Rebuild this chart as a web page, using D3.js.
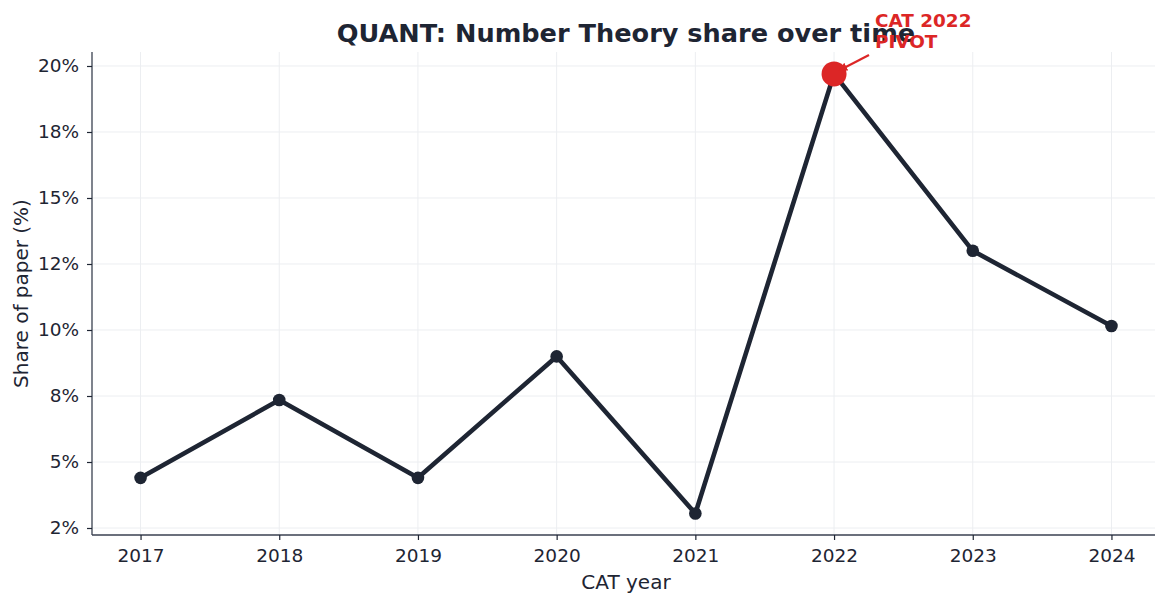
<!DOCTYPE html>
<html>
<head>
<meta charset="utf-8">
<script src="https://cdn.jsdelivr.net/npm/d3@7"></script>
<style>
  body { margin: 0; background: #fff; }
  svg { display: block; font-family: "DejaVu Sans", sans-serif; }
</style>
</head>
<body>
<div id="chart"></div>
<script>
// CAT Quant: Number Theory share by year
const years = [2017, 2018, 2019, 2020, 2021, 2022, 2023, 2024];
const shares = [4.4, 7.35, 4.4, 9.0, 3.05, 19.7, 13.0, 10.15];
const yTicks = [2.5, 5, 7.5, 10, 12.5, 15, 17.5, 20];
const yTickLabels = ['2%', '5%', '8%', '10%', '12%', '15%', '18%', '20%'];
const pivotYear = 2022;

const width = 1155, height = 594;
const margin = { top: 52, right: -5, bottom: 59, left: 92 };
const ink = '#1e2533';
const red = '#dc2626';

const svg = d3.select('#chart').append('svg')
    .attr('width', width)
    .attr('height', height);

const x = d3.scaleLinear()
    .domain([2016.65, 2024.35])
    .range([margin.left, width - margin.right]);
const y = d3.scaleLinear()
    .domain([2.235, 20.53])
    .range([height - margin.bottom, margin.top]);

// Grid
const grid = svg.append('g');
grid.selectAll('.gy').data(yTicks).join('line')
    .attr('x1', margin.left).attr('x2', width - margin.right)
    .attr('y1', d => y(d)).attr('y2', d => y(d))
    .attr('stroke', '#eceef1').attr('stroke-width', 1);
grid.selectAll('.gx').data(years).join('line')
    .attr('x1', d => x(d)).attr('x2', d => x(d))
    .attr('y1', margin.top).attr('y2', height - margin.bottom)
    .attr('stroke', '#eceef1').attr('stroke-width', 1);

// Axes
const xAxis = svg.append('g')
    .attr('transform', `translate(0,${height - margin.bottom})`)
    .call(d3.axisBottom(x).tickValues(years).tickFormat(d3.format('d')).tickSize(5).tickPadding(9));
const yAxis = svg.append('g')
    .attr('transform', `translate(${margin.left},0)`)
    .call(d3.axisLeft(y).tickValues(yTicks).tickFormat((d, i) => yTickLabels[i]).tickSize(5).tickPadding(8));

[xAxis, yAxis].forEach(a => {
    a.select('.domain').attr('stroke', '#3a4150').attr('stroke-width', 1.3)
        .attr('d', a === xAxis
            ? `M${margin.left},0H${width - margin.right}`
            : `M0,${height - margin.bottom}V${margin.top}`);
    a.selectAll('.tick line').attr('stroke', ink).attr('stroke-width', 1.2);
    a.selectAll('.tick text').attr('fill', ink).style('font-size', '18.5px')
        .style('font-family', '"DejaVu Sans", sans-serif');
});

// Line + markers
const line = d3.line().x((d, i) => x(years[i])).y(d => y(d));
svg.append('path')
    .datum(shares)
    .attr('d', line)
    .attr('fill', 'none')
    .attr('stroke', ink)
    .attr('stroke-width', 4.6)
    .attr('stroke-linejoin', 'round');

svg.selectAll('.pt').data(shares).join('circle')
    .attr('cx', (d, i) => x(years[i]))
    .attr('cy', d => y(d))
    .attr('r', 6.3)
    .attr('fill', ink);

// Pivot highlight
const pi = years.indexOf(pivotYear);
const px = x(pivotYear), py = y(shares[pi]);
svg.append('circle')
    .attr('cx', px).attr('cy', py).attr('r', 12.5)
    .attr('fill', red);

// Title
svg.append('text')
    .attr('x', (margin.left + 1160) / 2)
    .attr('y', 42)
    .attr('text-anchor', 'middle')
    .attr('fill', ink)
    .style('font-size', '25.6px')
    .style('font-weight', 'bold')
    .text('QUANT: Number Theory share over time');

// Annotation
svg.append('defs').append('marker')
    .attr('id', 'arrowhead')
    .attr('viewBox', '0 -5 10 10')
    .attr('refX', 8).attr('refY', 0)
    .attr('markerWidth', 4).attr('markerHeight', 4)
    .attr('orient', 'auto')
    .append('path').attr('d', 'M0,-5L10,0L0,5').attr('fill', red);

svg.append('line')
    .attr('x1', 869).attr('y1', 55)
    .attr('x2', px + 6).attr('y2', py - 4)
    .attr('stroke', red).attr('stroke-width', 2.2)
    .attr('marker-end', 'url(#arrowhead)');

const ann = svg.append('text')
    .attr('x', 875).attr('y', 27)
    .attr('fill', red)
    .style('font-size', '18.4px')
    .style('font-weight', 'bold');
ann.append('tspan').attr('x', 875).text('CAT 2022');
ann.append('tspan').attr('x', 875).attr('dy', 21).text('PIVOT');

// Axis labels
svg.append('text')
    .attr('x', (margin.left + 1160) / 2)
    .attr('y', 589)
    .attr('text-anchor', 'middle')
    .attr('fill', ink)
    .style('font-size', '20px')
    .text('CAT year');

svg.append('text')
    .attr('transform', `translate(28,${(margin.top + height - margin.bottom) / 2}) rotate(-90)`)
    .attr('text-anchor', 'middle')
    .attr('fill', ink)
    .style('font-size', '20px')
    .text('Share of paper (%)');
</script>
</body>
</html>
